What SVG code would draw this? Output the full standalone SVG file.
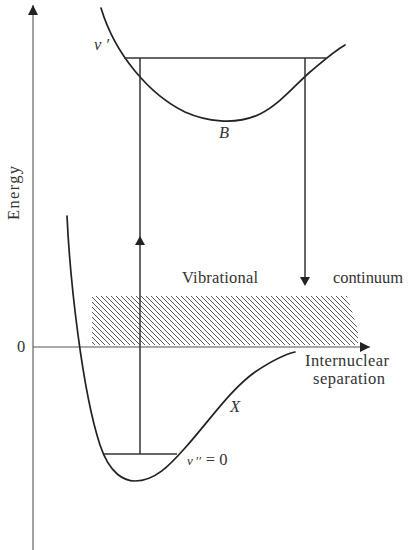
<svg xmlns="http://www.w3.org/2000/svg" width="409" height="550" viewBox="0 0 409 550">
<style>
.axis{stroke:#555;stroke-width:1.1;fill:none}
.curve{stroke:#222;stroke-width:1.7;fill:none;stroke-linecap:round}
.lvl{stroke:#333;stroke-width:1.5;fill:none}
.t{font-family:"Liberation Serif","Times New Roman",serif;fill:#333;font-size:16.5px}
.i{font-style:italic}
</style>
<defs>
<marker id="ah" viewBox="0 0 10 10" refX="10" refY="5" markerWidth="10" markerHeight="10" markerUnits="userSpaceOnUse" orient="auto">
<path d="M0,0 L10,5 L0,10 Z" fill="#222"/>
</marker>
<pattern id="hatch" patternUnits="userSpaceOnUse" x="0" y="0" width="5" height="5">
<path d="M0,0 L5,5 M-1,4 L1,6 M4,-1 L6,1" stroke="#444" stroke-width="0.9" fill="none"/>
</pattern>
<clipPath id="hc"><polygon points="92,296 347,296 358,330 358,345 92,345"/></clipPath>
</defs>
<rect width="409" height="550" fill="#fff"/>
<g id="continuum">
<rect x="92" y="296" width="266" height="49" fill="url(#hatch)" clip-path="url(#hc)"/>
<text class="t" x="182" y="283" textLength="76">Vibrational</text>
<text class="t" x="333" y="283" textLength="70">continuum</text>
</g>
<g id="axes">
<line class="axis" x1="33" y1="550" x2="33" y2="5" marker-end="url(#ah)"/>
<line class="axis" x1="33" y1="347" x2="370" y2="347" marker-end="url(#ah)"/>
<text class="t" transform="translate(19,193) rotate(-90)" text-anchor="middle" textLength="54">Energy</text>
<text class="t" x="17" y="352" font-size="15">0</text>
<text class="t" x="305" y="366" font-size="16" textLength="84">Internuclear</text>
<text class="t" x="313" y="384" font-size="16" textLength="72">separation</text>
</g>
<g id="stateB">
<path class="curve" d="M101,8 C115,55 150,95 185,112 C205,121 235,126 260,114 C280,104 295,85 310,72 C322,62 333,52 345,45"/>
<line class="lvl" x1="124" y1="58" x2="326" y2="58"/>
<text class="t i" x="219" y="138" font-size="15">B</text>
<text class="t i" x="94" y="50" font-size="12">v ′</text>
</g>
<g id="stateX">
<path class="curve" d="M67,216 C70,280 82,390 100,445 C110,475 125,481 135,481 C155,481 170,465 185,448 C210,420 230,390 255,372 C270,362 282,355 295,352"/>
<line class="lvl" x1="104" y1="454" x2="177" y2="454"/>
<text class="t i" x="230" y="412" font-size="15">X</text>
<text class="t" x="187" y="465" font-size="16"><tspan font-style="italic" font-size="13">v</tspan><tspan font-size="13"> ′′</tspan><tspan> = 0</tspan></text>
</g>
<g id="connectors">
<line class="lvl" x1="140" y1="454" x2="140" y2="58"/>
<path d="M135,245 L140,236 L145,245 Z" fill="#222"/>
<line class="lvl" x1="305" y1="58" x2="305" y2="278"/>
<path d="M300,277 L305,286 L310,277 Z" fill="#222"/>
</g>
</svg>
